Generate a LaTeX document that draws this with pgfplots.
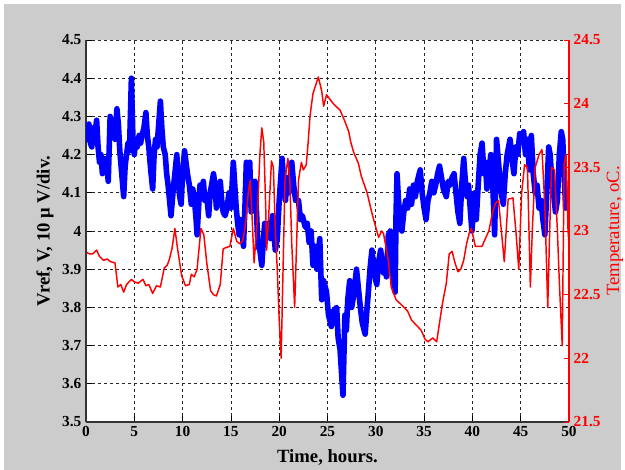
\documentclass[border=0pt]{standalone}
\usepackage{fontspec}
\setmainfont{Liberation Serif}
\usepackage{pgfplots}
\usepackage{pgfplotstable}
\pgfplotsset{compat=1.18}
\definecolor{figbg}{RGB}{204,204,204}

\pgfplotstableread{
t v
0.0 4.27
0.15 4.24
0.3 4.28
0.45 4.23
0.6 4.22
0.75 4.27
0.9 4.25
1.1 4.29
1.25 4.22
1.4 4.18
1.55 4.20
1.7 4.15
1.85 4.19
2.0 4.16
2.15 4.19
2.3 4.13
2.5 4.30
2.65 4.26
2.8 4.29
3.0 4.24
3.2 4.32
3.35 4.28
3.5 4.21
3.7 4.15
3.9 4.09
4.05 4.17
4.2 4.20
4.35 4.23
4.5 4.21
4.7 4.40
4.85 4.25
5.0 4.20
5.15 4.24
5.3 4.22
5.5 4.25
5.65 4.23
5.8 4.25
6.0 4.27
6.2 4.31
6.35 4.25
6.5 4.22
6.7 4.16
6.9 4.11
7.05 4.20
7.2 4.24
7.35 4.22
7.5 4.27
7.7 4.34
7.85 4.27
8.0 4.22
8.2 4.20
8.35 4.15
8.5 4.12
8.65 4.08
8.8 4.04
9.0 4.10
9.2 4.15
9.4 4.20
9.55 4.13
9.7 4.09
9.85 4.07
10.0 4.15
10.2 4.21
10.35 4.18
10.5 4.15
10.7 4.12
10.9 4.07
11.05 4.11
11.2 4.09
11.4 4.03
11.5 3.99
11.65 4.06
11.8 4.12
12.0 4.10
12.15 4.13
12.3 4.08
12.5 4.09
12.7 4.04
12.85 4.10
13.0 4.12
13.2 4.15
13.35 4.12
13.5 4.06
13.7 4.10
13.9 4.13
14.05 4.08
14.2 4.05
14.4 4.04
14.6 4.06
14.8 4.10
15.0 4.06
15.25 4.18
15.4 4.12
15.55 4.06
15.7 4.02
15.85 3.99
16.0 4.03
16.3 3.96
16.45 4.06
16.6 4.18
16.8 4.12
16.95 4.18
17.1 4.05
17.3 4.10
17.5 4.13
17.65 4.05
17.8 3.96
18.0 3.95
18.2 3.91
18.35 3.97
18.5 4.02
18.7 4.00
18.9 4.02
19.1 3.98
19.3 4.04
19.6 3.95
19.8 3.98
20.0 4.08
20.3 4.19
20.5 4.12
20.65 4.08
20.8 4.14
21.0 4.10
21.3 4.18
21.5 4.12
21.7 4.08
22.0 4.08
22.2 4.03
22.4 4.04
22.7 4.01
22.9 4.02
23.1 3.97
23.3 4.00
23.5 3.91
23.7 3.96
23.9 3.90
24.2 3.98
24.4 3.82
24.6 3.87
24.9 3.84
25.1 3.78
25.4 3.75
25.6 3.79
25.95 3.80
26.1 3.72
26.3 3.69
26.6 3.57
26.8 3.78
26.95 3.74
27.1 3.82
27.3 3.87
27.5 3.80
27.7 3.83
28.0 3.90
28.2 3.85
28.4 3.80
28.6 3.76
28.9 3.73
29.1 3.80
29.2 3.83
29.4 3.90
29.6 3.95
29.8 3.90
30.0 3.87
30.1 3.86
30.3 3.92
30.5 3.95
30.6 3.93
30.8 3.89
31.0 3.92
31.1 3.88
31.3 3.99
31.5 4.00
31.7 3.90
31.9 3.85
32.0 3.84
32.1 4.05
32.2 4.15
32.35 4.08
32.5 4.04
32.7 4.00
32.9 4.05
33.1 4.08
33.3 4.06
33.5 4.11
33.7 4.07
33.9 4.12
34.1 4.09
34.3 4.13
34.6 4.16
34.8 4.10
35.0 4.06
35.2 4.03
35.4 4.08
35.6 4.10
35.8 4.13
36.0 4.10
36.2 4.12
36.4 4.15
36.6 4.17
36.8 4.14
37.0 4.11
37.3 4.09
37.5 4.13
37.7 4.12
37.9 4.14
38.1 4.15
38.3 4.10
38.5 4.05
38.7 4.02
38.9 4.12
39.1 4.19
39.3 4.12
39.45 4.09
39.6 4.12
39.8 4.05
39.95 4.00
40.1 4.05
40.25 4.10
40.4 4.03
40.6 4.12
40.8 4.20
41.0 4.23
41.2 4.15
41.35 4.18
41.5 4.11
41.7 4.15
41.9 4.20
42.1 4.13
42.3 3.99
42.5 4.24
42.7 4.18
42.9 4.12
43.05 4.09
43.2 4.07
43.4 4.15
43.6 4.20
43.9 4.24
44.1 4.19
44.3 4.15
44.5 4.22
44.7 4.20
44.9 4.255
45.1 4.24
45.3 4.26
45.5 4.20
45.7 4.24
45.9 4.16
46.1 4.25
46.3 4.15
46.5 4.10
46.7 4.12
46.9 4.06
47.1 4.08
47.3 4.03
47.5 3.99
47.7 4.10
47.9 4.22
48.05 4.20
48.2 4.14
48.4 4.10
48.6 4.05
48.8 4.08
49.0 4.20
49.2 4.26
49.35 4.24
49.5 4.15
49.65 4.06
49.8 4.07
50.0 4.08
}\vref

\pgfplotstableread{
t T
0.1 22.83
0.4 22.82
0.7 22.82
1.1 22.85
1.4 22.80
1.8 22.77
2.2 22.78
2.5 22.76
3.0 22.75
3.3 22.56
3.6 22.58
3.9 22.52
4.2 22.58
4.7 22.62
5.0 22.60
5.4 22.59
5.9 22.62
6.2 22.57
6.5 22.58
6.9 22.51
7.3 22.57
7.7 22.56
8.1 22.71
8.4 22.73
8.6 22.77
8.9 22.86
9.2 23.02
9.5 22.85
9.9 22.65
10.3 22.57
10.7 22.58
10.9 22.66
11.2 22.64
11.5 22.70
11.9 23.02
12.2 22.97
12.5 22.75
12.9 22.53
13.2 22.50
13.5 22.49
13.9 22.58
14.2 22.86
14.5 22.87
14.9 22.88
15.25 23.02
15.6 22.92
15.9 22.90
16.2 22.92
16.5 23.04
16.8 23.30
17.0 23.40
17.2 23.10
17.4 22.75
17.7 23.05
18.0 23.60
18.2 23.81
18.4 23.70
18.6 23.20
18.7 22.85
18.9 23.10
19.2 23.55
19.4 23.50
19.6 23.00
19.8 22.70
20.0 22.30
20.2 22.00
20.4 22.70
20.6 23.40
20.9 23.57
21.1 23.40
21.3 22.90
21.6 22.40
21.8 22.90
22.0 23.40
22.3 23.54
22.5 23.48
22.8 23.52
23.0 23.70
23.2 23.91
23.5 24.08
23.8 24.15
24.05 24.21
24.4 24.10
24.6 23.98
24.9 24.07
25.3 24.03
25.6 24.00
26.0 23.97
26.3 23.95
26.8 23.86
27.2 23.78
27.4 23.70
27.7 23.62
28.2 23.53
28.5 23.43
29.1 23.30
29.6 23.14
30.1 23.00
30.3 22.95
30.6 23.00
30.8 22.98
31.3 22.77
31.6 22.56
32.1 22.46
32.8 22.41
33.3 22.37
33.7 22.30
34.2 22.26
34.7 22.22
35.1 22.15
35.4 22.13
35.9 22.16
36.3 22.13
36.6 22.28
36.9 22.43
37.3 22.59
37.6 22.82
37.9 22.84
38.2 22.75
38.5 22.68
38.8 22.70
39.1 22.77
39.4 22.90
39.7 22.99
39.9 23.02
40.3 22.88
41.0 22.88
41.4 22.95
41.7 23.00
42.1 23.15
42.4 23.22
42.7 23.24
43.0 23.00
43.3 22.76
43.7 23.25
44.2 23.26
44.5 23.00
44.8 22.70
45.1 23.30
45.4 23.52
45.7 23.50
46.0 22.56
46.2 23.00
46.5 23.50
46.9 23.60
47.2 23.64
47.5 23.20
47.8 22.40
48.0 23.00
48.2 23.50
48.5 23.48
48.8 23.00
49.0 22.60
49.3 22.10
49.5 23.53
49.7 23.60
49.9 23.00
50.0 22.90
}\temp

\begin{document}
\begin{tikzpicture}[x=1pt,y=1pt]
\useasboundingbox (0,0) rectangle (468.75,352.5);
\fill[white] (0,0) rectangle (468.75,352.5);
\fill[figbg] (3,0) rectangle (465.75,349.5);
\begin{axis}[
  at={(64.5pt,36pt)}, anchor=south west,
  scale only axis, width=362.25pt, height=286.5pt,
  xmin=0, xmax=50, ymin=3.5, ymax=4.5,
  axis x line*=bottom, axis y line*=left,
  axis line style={-, black!80, line width=0.8pt},
  axis background/.style={fill=white},
  xtick={0,5,10,15,20,25,30,35,40,45,50},
  ytick={3.5,3.6,3.7,3.8,3.9,4,4.1,4.2,4.3,4.4,4.5},
  tick align=inside, tick style={black, line width=0.6pt},
  grid=major,
  major grid style={black!85, line width=0.6pt, dash pattern=on 2.25pt off 2.25pt},
  /pgf/number format/assume math mode=true,
  ticklabel style={font=\bfseries\fontsize{11.5}{12}\selectfont},
  xlabel={\bfseries Time, hours.},
  ylabel={\bfseries Vref, V, 10 μ V/div.},
  label style={font=\fontsize{14}{16}\selectfont},
  xlabel style={at={(axis description cs:0.5,-0.094)}, anchor=center},
  ylabel style={at={(axis description cs:-0.085,0.5)}, anchor=center},
  clip=true,
]
\addplot[blue, line width=4.2pt, line join=round, line cap=round] table[x=t, y=v] {\vref};
\node[anchor=south west, inner sep=0pt, font=\bfseries\fontsize{11}{12}\selectfont]
  at (axis description cs:0,1.018) {x 10\textsuperscript{-4}};
\end{axis}
\begin{axis}[
  at={(64.5pt,36pt)}, anchor=south west,
  scale only axis, width=362.25pt, height=286.5pt,
  xmin=0, xmax=50, ymin=21.5, ymax=24.5,
  axis x line=none, axis y line*=right,
  axis line style={-, red, line width=0.8pt},
  ytick={21.5,22,22.5,23,23.5,24,24.5},
  tick align=inside, tick style={red, line width=0.6pt},
  major tick length=4pt,
  /pgf/number format/assume math mode=true,
  yticklabel style={red, font=\bfseries\fontsize{11.5}{12}\selectfont},
  ylabel={Temperature, oC.},
  ylabel style={red, font=\fontsize{14}{16}\selectfont, at={(axis description cs:1.095,0.5)}, anchor=center, rotate=0},
]
\addplot[red, line width=1.1pt, line join=round] table[x=t, y=T] {\temp};
\end{axis}
\end{tikzpicture}
\end{document}
